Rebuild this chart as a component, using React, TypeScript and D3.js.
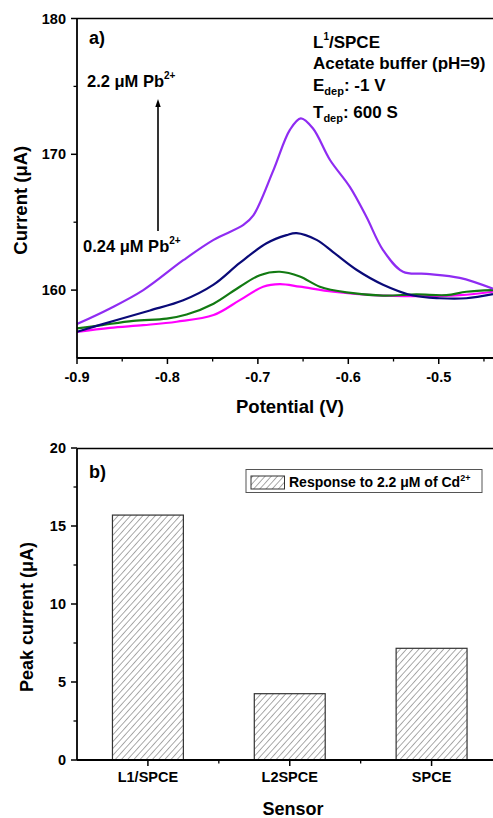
import React from 'react';
import * as d3 from 'd3';

// Panel a) — stripping voltammograms (potential V, current µA)
const purpleV = [-0.9, -0.8635, -0.8267, -0.7825, -0.749, -0.716, -0.705, -0.683, -0.6646, -0.6525, -0.639, -0.6204, -0.5983, -0.58, -0.5616, -0.5395, -0.5136, -0.4768, -0.44];
const purpleI = [157.5, 158.65, 160.0, 162.2, 163.7, 164.8, 165.5, 168.8, 171.8, 172.65, 171.9, 169.6, 167.6, 165.4, 162.95, 161.35, 161.2, 160.9, 160.1];

const navyV = [-0.9, -0.856, -0.8193, -0.7825, -0.749, -0.72, -0.6904, -0.6683, -0.6572, -0.6351, -0.6168, -0.591, -0.5616, -0.5284, -0.499, -0.4694, -0.44];
const navyI = [156.93, 157.8, 158.5, 159.25, 160.4, 162.0, 163.45, 164.05, 164.2, 163.7, 162.8, 161.5, 160.4, 159.6, 159.4, 159.4, 159.7];

const greenV = [-0.9, -0.8746, -0.8378, -0.8009, -0.7788, -0.749, -0.72, -0.6978, -0.6757, -0.6536, -0.6315, -0.602, -0.5616, -0.5247, -0.4915, -0.4694, -0.44];
const greenI = [157.18, 157.4, 157.74, 157.9, 158.2, 159.0, 160.25, 161.1, 161.35, 161.0, 160.25, 159.83, 159.6, 159.68, 159.63, 159.88, 160.0];

const magentaV = [-0.9, -0.8635, -0.8267, -0.7898, -0.749, -0.72, -0.6942, -0.6757, -0.6536, -0.6168, -0.5726, -0.5247, -0.4768, -0.44];
const magentaI = [156.93, 157.22, 157.42, 157.67, 158.16, 159.26, 160.25, 160.44, 160.25, 159.88, 159.63, 159.56, 159.63, 159.88];

const xTicksA = [-0.9, -0.8, -0.7, -0.6, -0.5];
const xMinorA = [-0.85, -0.75, -0.65, -0.55, -0.45];
const yTicksA = [160, 170, 180];
const yMinorA = [165, 175];

// Panel b) — peak current per sensor
const sensors = ['L1/SPCE', 'L2SPCE', 'SPCE'];
const peakCurrent = [15.7, 4.25, 7.16];
const yTicksB = [0, 5, 10, 15, 20];
const yMinorB = [2.5, 7.5, 12.5, 17.5];

const FONT = "'Liberation Sans', Arial, sans-serif";

const series = [
  { v: magentaV, i: magentaI, color: '#ff00ff' },
  { v: greenV, i: greenI, color: '#127a12' },
  { v: navyV, i: navyI, color: '#0a0a78' },
  { v: purpleV, i: purpleI, color: '#8f2cf2' },
];

const App: React.FC = () => {
  const W = 493;
  const H = 818;
  const left = 77;

  // top panel
  const xA = d3.scaleLinear().domain([-0.9, -0.44]).range([left, W]);
  const yA = d3.scaleLinear().domain([155, 180]).range([358, 18.5]);
  const line = d3.line<[number, number]>()
    .x(d => xA(d[0]))
    .y(d => yA(d[1]))
    .curve(d3.curveCatmullRom.alpha(0.5));

  // bottom panel
  const xB = d3.scaleBand<string>().domain(sensors).range([left, 502.5]).paddingInner(0.5).paddingOuter(0.25);
  const yB = d3.scaleLinear().domain([0, 20]).range([760, 448]);
  const minorXB = sensors.slice(1).map(s => (xB(s)! + xB.bandwidth() / 2) - xB.step() / 2);

  const bold = { fontFamily: FONT, fontWeight: 700 as const };

  return (
    <svg width={W} height={H} style={{ position: 'absolute', left: 0, top: 0, background: '#fff' }}>
      <defs>
        <clipPath id="clipA">
          <rect x={left} y={18} width={W - left} height={340} />
        </clipPath>
        <pattern id="hatch" width={4.6} height={4.6} patternUnits="userSpaceOnUse" patternTransform="rotate(42)">
          <line x1={0} y1={0} x2={0} y2={4.6} stroke="#444" strokeWidth={0.9} />
        </pattern>
      </defs>

      {/* ===== Panel a ===== */}
      <g clipPath="url(#clipA)">
        {series.map((s, k) => (
          <path key={k} d={line(s.v.map((v, j) => [v, s.i[j]] as [number, number])) || ''}
            fill="none" stroke={s.color} strokeWidth={2.2} />
        ))}
      </g>
      {/* frame */}
      <line x1={left} x2={W} y1={18.5} y2={18.5} stroke="#000" strokeWidth={1.6} />
      <line x1={left} x2={W} y1={358} y2={358} stroke="#000" strokeWidth={1.8} />
      <line x1={left} x2={left} y1={18.5} y2={358} stroke="#000" strokeWidth={1.8} />
      {xTicksA.map(t => (
        <g key={t}>
          <line x1={xA(t)} x2={xA(t)} y1={358} y2={364} stroke="#000" strokeWidth={1.5} />
          <text x={xA(t)} y={382} textAnchor="middle" fontSize={14.5} {...bold}>{t.toFixed(1)}</text>
        </g>
      ))}
      {xMinorA.map(t => (
        <line key={t} x1={xA(t)} x2={xA(t)} y1={358} y2={361.5} stroke="#000" strokeWidth={1.3} />
      ))}
      {yTicksA.map(t => (
        <g key={t}>
          <line x1={left - 6} x2={left} y1={yA(t)} y2={yA(t)} stroke="#000" strokeWidth={1.5} />
          <text x={66} y={yA(t) + 5} textAnchor="end" fontSize={14.5} {...bold}>{t}</text>
        </g>
      ))}
      {yMinorA.map(t => (
        <line key={t} x1={left - 3.5} x2={left} y1={yA(t)} y2={yA(t)} stroke="#000" strokeWidth={1.3} />
      ))}
      <text transform={`translate(26.5,${(18.5 + 358) / 2 + 12}) rotate(-90)`} textAnchor="middle" fontSize={18.5} {...bold}>Current (μA)</text>
      <text x={290} y={413} textAnchor="middle" fontSize={18.5} {...bold}>Potential (V)</text>

      <text x={89} y={44} fontSize={18} {...bold}>a)</text>
      <g fontSize={17} {...bold}>
        <text x={313} y={48}>L<tspan fontSize={10} dy={-8}>1</tspan><tspan dy={8}>/SPCE</tspan></text>
        <text x={313} y={69}>Acetate buffer (pH=9)</text>
        <text x={313} y={91}>E<tspan fontSize={11} dy={4}>dep</tspan><tspan dy={-4}>: -1 V</tspan></text>
        <text x={313} y={118}>T<tspan fontSize={11} dy={4}>dep</tspan><tspan dy={-4}>: 600 S</tspan></text>
      </g>
      <g fontSize={16.5} {...bold}>
        <text x={87} y={87}>2.2 μM Pb<tspan fontSize={10} dy={-8}>2+</tspan></text>
        <text x={83} y={251.5}>0.24 μM Pb<tspan fontSize={10} dy={-8}>2+</tspan></text>
      </g>
      <line x1={158} x2={158} y1={231} y2={106} stroke="#000" strokeWidth={1.6} />
      <path d="M158,99 L155.3,107 L160.7,107 Z" fill="#000" />

      {/* ===== Panel b ===== */}
      {sensors.map((s, k) => (
        <rect key={s} x={xB(s)} y={yB(peakCurrent[k])} width={xB.bandwidth()} height={yB(0) - yB(peakCurrent[k])}
          fill="url(#hatch)" stroke="#333" strokeWidth={1.2} />
      ))}
      <line x1={left} x2={W} y1={448.5} y2={448.5} stroke="#000" strokeWidth={1.6} />
      <line x1={left} x2={W} y1={760} y2={760} stroke="#000" strokeWidth={1.8} />
      <line x1={left} x2={left} y1={448.5} y2={760} stroke="#000" strokeWidth={1.8} />
      {yTicksB.map(t => (
        <g key={t}>
          <line x1={left - 6} x2={left} y1={yB(t)} y2={yB(t)} stroke="#000" strokeWidth={1.5} />
          <text x={66} y={yB(t) + 5} textAnchor="end" fontSize={14.5} {...bold}>{t}</text>
        </g>
      ))}
      {yMinorB.map(t => (
        <line key={t} x1={left - 3.5} x2={left} y1={yB(t)} y2={yB(t)} stroke="#000" strokeWidth={1.3} />
      ))}
      {sensors.map(s => {
        const cx = xB(s)! + xB.bandwidth() / 2;
        return (
          <g key={s}>
            <line x1={cx} x2={cx} y1={760} y2={766} stroke="#000" strokeWidth={1.5} />
            <text x={cx} y={782} textAnchor="middle" fontSize={14.5} {...bold}>{s}</text>
          </g>
        );
      })}
      {minorXB.map((m, k) => (
        <line key={k} x1={m} x2={m} y1={760} y2={763.5} stroke="#000" strokeWidth={1.3} />
      ))}
      <text transform={`translate(33,617) rotate(-90)`} textAnchor="middle" fontSize={18} {...bold}>Peak current (μA)</text>
      <text x={293} y={815} textAnchor="middle" fontSize={18} {...bold}>Sensor</text>
      <text x={89} y={478} fontSize={18} {...bold}>b)</text>

      {/* legend */}
      <rect x={246} y={469.5} width={236} height={23} fill="#fff" stroke="#555" strokeWidth={1} />
      <rect x={251} y={476} width={33.5} height={13} fill="url(#hatch)" stroke="#333" strokeWidth={1} />
      <text x={289} y={487} fontSize={14} {...bold}>Response to 2.2 μM of Cd<tspan fontSize={9} dy={-6}>2+</tspan></text>
    </svg>
  );
};

export default App;
